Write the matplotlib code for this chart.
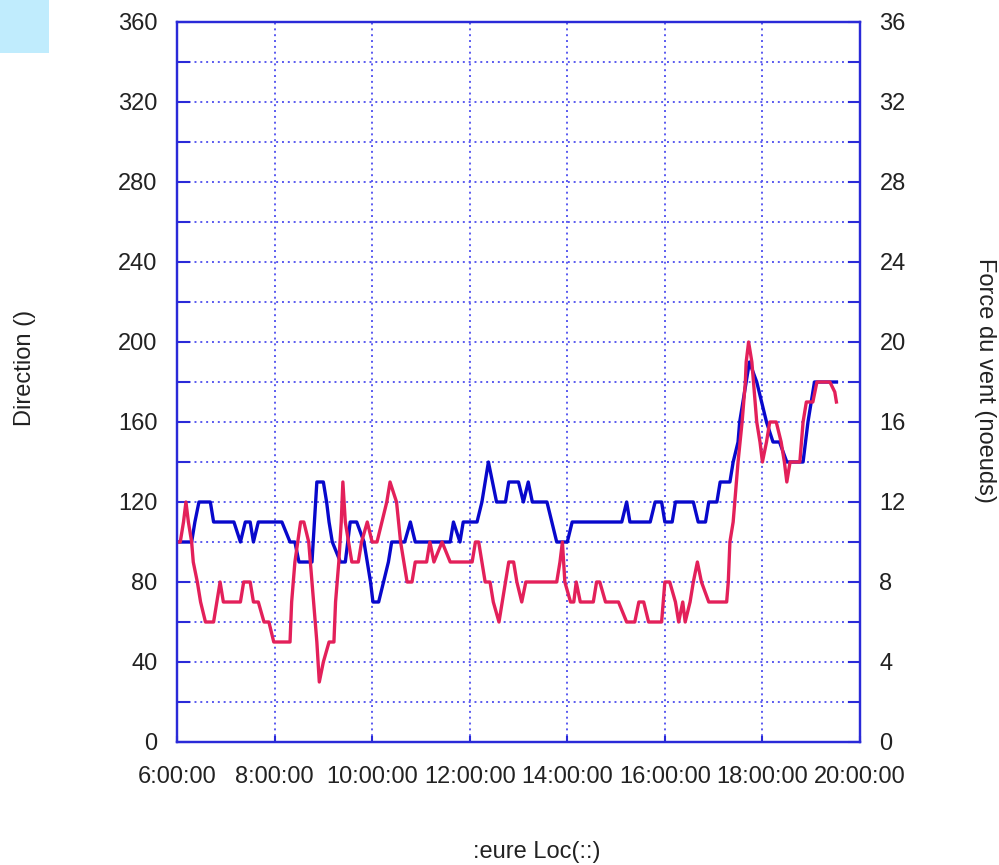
import matplotlib
matplotlib.use("Agg")
import matplotlib.pyplot as plt
from matplotlib.ticker import MultipleLocator, FuncFormatter
from matplotlib.patches import Rectangle

# direction (left axis, degrees)
dir_times = ["06:00", "06:18", "06:22", "06:27", "06:41", "06:45", "07:10", "07:18", "07:24", "07:30",
             "07:34", "07:40", "08:09", "08:19", "08:25", "08:30", "08:46", "08:52", "09:00", "09:04",
             "09:07", "09:11", "09:21", "09:27", "09:33", "09:41", "09:50", "09:58", "10:01", "10:08",
             "10:14", "10:20", "10:24", "10:40", "10:47", "10:53", "11:36", "11:40", "11:48", "11:52",
             "12:09", "12:15", "12:23", "12:33", "12:44", "12:48", "13:00", "13:06", "13:12", "13:17",
             "13:35", "13:41", "13:47", "14:00", "14:06", "15:07", "15:13", "15:17", "15:42", "15:48",
             "15:56", "16:00", "16:09", "16:13", "16:35", "16:41", "16:50", "16:54", "17:04", "17:08",
             "17:20", "17:24", "17:30", "17:32", "17:40", "17:44", "17:53", "17:59", "18:05", "18:13",
             "18:21", "18:30", "18:50", "18:56", "19:00", "19:04", "19:31"]
dir_values = [100, 100, 110, 120, 120, 110, 110, 100, 110, 110,
              100, 110, 110, 100, 100, 90, 90, 130, 130, 120,
              110, 100, 90, 90, 110, 110, 100, 80, 70, 70,
              80, 90, 100, 100, 110, 100, 100, 110, 100, 110,
              110, 120, 140, 120, 120, 130, 130, 120, 130, 120,
              120, 110, 100, 100, 110, 110, 120, 110, 110, 120,
              120, 110, 110, 120, 120, 110, 110, 120, 120, 130,
              130, 140, 150, 160, 180, 190, 180, 170, 160, 150,
              150, 140, 140, 160, 170, 180, 180]

# wind force (right axis, knots)
force_times = ["06:00", "06:04", "06:08", "06:11", "06:14", "06:18", "06:20", "06:25", "06:29", "06:35",
               "06:45", "06:49", "06:53", "06:57", "07:18", "07:22", "07:30", "07:34", "07:40", "07:47",
               "07:53", "07:59", "08:19", "08:21", "08:25", "08:32", "08:36", "08:42", "08:46", "08:50",
               "08:52", "08:55", "09:00", "09:07", "09:13", "09:15", "09:19", "09:22", "09:24", "09:27",
               "09:31", "09:35", "09:43", "09:47", "09:54", "10:00", "10:06", "10:12", "10:18", "10:22",
               "10:30", "10:35", "10:39", "10:43", "10:49", "10:53", "11:07", "11:11", "11:16", "11:26",
               "11:36", "12:03", "12:07", "12:11", "12:15", "12:19", "12:25", "12:29", "12:36", "12:40",
               "12:44", "12:48", "12:54", "12:58", "13:04", "13:09", "13:47", "13:51", "13:54", "13:57",
               "14:04", "14:08", "14:11", "14:16", "14:20", "14:32", "14:36", "14:40", "14:47", "15:03",
               "15:13", "15:23", "15:28", "15:34", "15:40", "15:56", "16:00", "16:06", "16:13", "16:17",
               "16:22", "16:25", "16:31", "16:35", "16:40", "16:45", "16:54", "17:16", "17:18", "17:20",
               "17:24", "17:26", "17:30", "17:35", "17:37", "17:39", "17:40", "17:43", "17:47", "17:49",
               "17:53", "17:57", "18:00", "18:05", "18:09", "18:17", "18:23", "18:27", "18:30", "18:34",
               "18:38", "18:46", "18:50", "18:54", "19:02", "19:07", "19:23", "19:29", "19:31"]
force_values = [10, 10, 11, 12, 11, 10, 9, 8, 7, 6,
                6, 7, 8, 7, 7, 8, 8, 7, 7, 6,
                6, 5, 5, 7, 9, 11, 11, 10, 8, 6,
                5, 3, 4, 5, 5, 7, 9, 11, 13, 11,
                10, 9, 9, 10, 11, 10, 10, 11, 12, 13,
                12, 10, 9, 8, 8, 9, 9, 10, 9, 10,
                9, 9, 10, 10, 9, 8, 8, 7, 6, 7,
                8, 9, 9, 8, 7, 8, 8, 9, 10, 8,
                7, 7, 8, 7, 7, 7, 8, 8, 7, 7,
                6, 6, 7, 7, 6, 6, 8, 8, 7, 6,
                7, 6, 7, 8, 9, 8, 7, 7, 8, 10,
                11, 12, 14, 16, 17, 18, 19, 20, 19, 18,
                16, 15, 14, 15, 16, 16, 15, 14, 13, 14,
                14, 14, 16, 17, 17, 18, 18, 17.5, 17]

x_ticks = [6, 8, 10, 12, 14, 16, 18, 20]

FRAME = "#2a2ad8"
GRID = "#5a5af0"
TEXT = "#222222"


def to_hours(times):
    out = []
    for t in times:
        h, m = t.split(":")
        out.append(int(h) + int(m) / 60)
    return out


fig = plt.figure(figsize=(9.99, 8.65), dpi=100)
plt.rcParams['font.family'] = ['Liberation Sans', 'DejaVu Sans']

fig.patches.append(Rectangle((0, 1 - 53 / 865), 49 / 999, 53 / 865, transform=fig.transFigure,
                             facecolor="#c0ecfd", edgecolor="none"))

ax = fig.add_axes([177 / 999, 123 / 865, 683 / 999, 720 / 865])
ax2 = ax.twinx()

ax.plot(to_hours(dir_times), dir_values, color="#0808cc", linewidth=2.4)
ax2.plot(to_hours(force_times), force_values, color="#e3205a", linewidth=2.4)

ax.set_xlim(6, 20)
ax.set_ylim(0, 360)
ax2.set_ylim(0, 36)

ax.set_xticks(x_ticks)
ax.xaxis.set_major_formatter(FuncFormatter(lambda v, p: f"{int(v)}:00:00"))
ax.yaxis.set_major_locator(MultipleLocator(40))
ax.yaxis.set_minor_locator(MultipleLocator(20))
ax2.yaxis.set_major_locator(MultipleLocator(4))
ax2.yaxis.set_minor_locator(MultipleLocator(2))

ax.grid(True, which="both", axis="y", color=GRID, linestyle=(0, (1, 2)), linewidth=1.4)
ax.grid(True, which="major", axis="x", color=GRID, linestyle=(0, (1, 2)), linewidth=1.4)

for a in (ax, ax2):
    for s in a.spines.values():
        s.set_color(FRAME)
        s.set_linewidth(1.6)

ax.tick_params(axis="y", which="both", direction="in", length=9, width=1.5, color=FRAME,
               labelsize=17, labelcolor=TEXT, pad=14)
ax.tick_params(axis="x", which="major", direction="in", length=4, width=1.5, color=FRAME,
               labelsize=17, labelcolor=TEXT, pad=17)
ax2.tick_params(axis="y", which="both", direction="in", length=9, width=1.5, color=FRAME,
                labelsize=17, labelcolor=TEXT, pad=14)

fig.text(25 / 999, 1 - 368 / 865, "Direction ()", rotation=90, ha="center", va="center",
         fontsize=17, color=TEXT)
fig.text(985 / 999, 1 - 380 / 865, "Force du vent (noeuds)", rotation=270, ha="center", va="center",
         fontsize=17, color=TEXT)
fig.text(537 / 999, 1 - 852 / 865, ":eure Loc(::)", ha="center", va="center",
         fontsize=17, color=TEXT)

fig.savefig("out.png", dpi=100)
